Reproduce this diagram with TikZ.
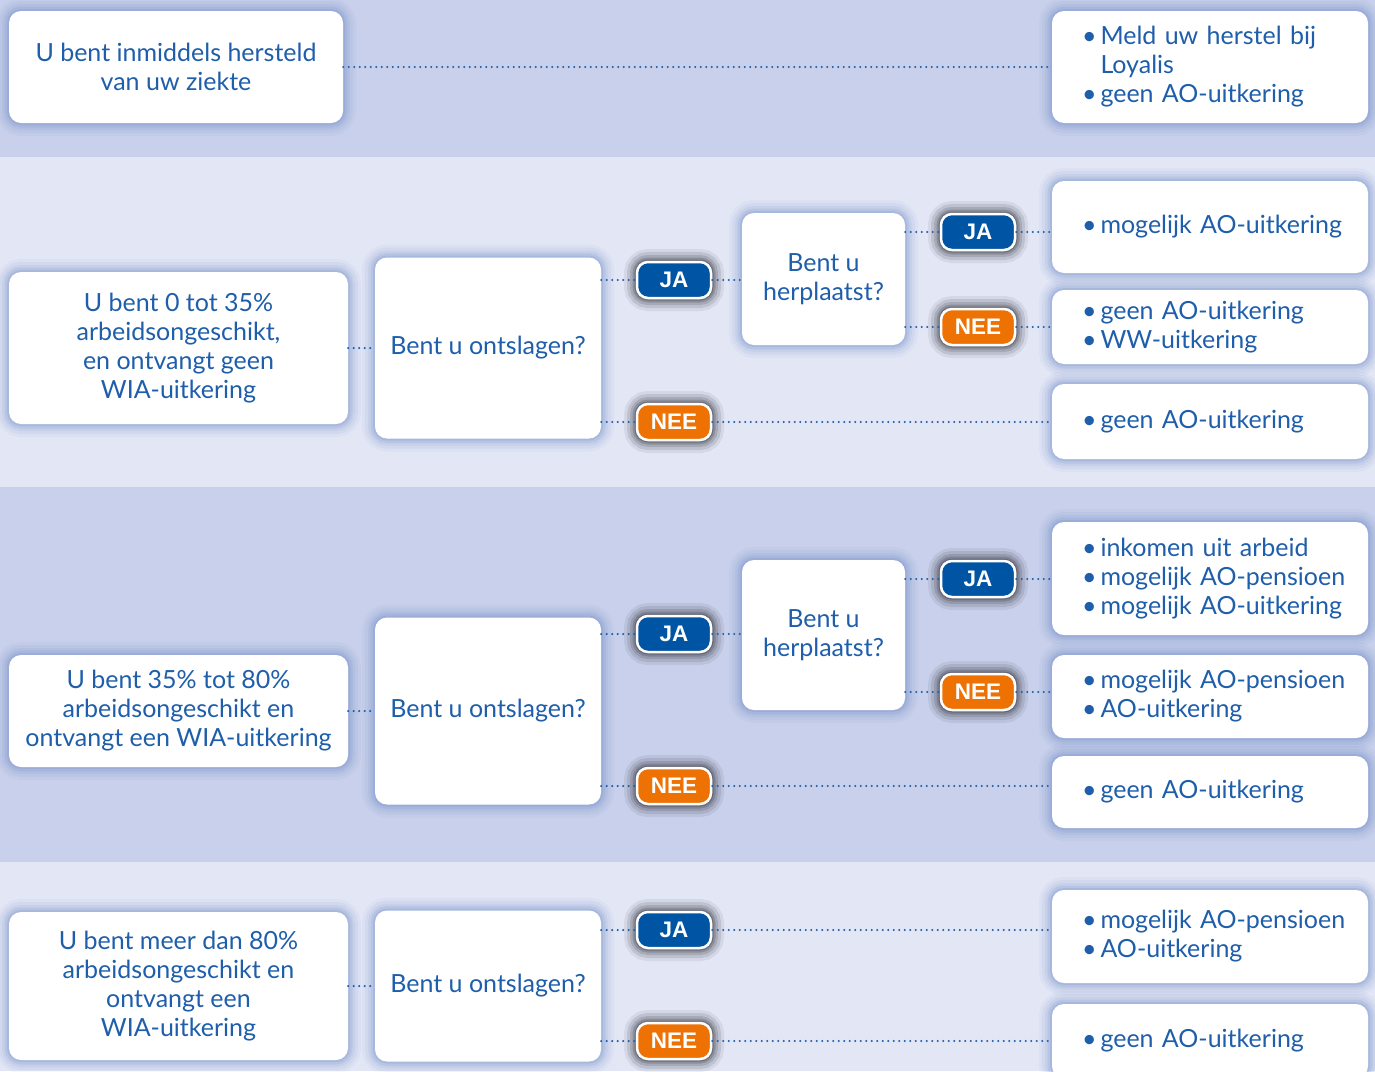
\documentclass[tikz,border=0pt]{standalone}
\usepackage{fontspec}
\setmainfont{Lato}
\newfontfamily\badgefont{Liberation Sans}
\usepackage{tikz}

\definecolor{textblue}{RGB}{30,94,170}
\definecolor{jablue}{RGB}{0,84,164}
\definecolor{neeorange}{RGB}{238,114,3}
\definecolor{banddark}{RGB}{200,208,235}
\definecolor{bandlight}{RGB}{226,230,245}
\definecolor{boxglow}{RGB}{100,130,195}
\definecolor{badgeglow}{RGB}{45,45,55}

\newcommand{\bul}[1]{\mbox{\textbullet\hspace{4pt}#1}}
\newcommand{\hang}[1]{\mbox{\phantom{\textbullet\hspace{4pt}}#1}}

\begin{document}
\begin{tikzpicture}[x=1pt, y=-1pt,
		glow_style/.style={preaction={draw=#1,draw opacity=.05,line width=26pt},
			preaction={draw=#1,draw opacity=.07,line width=20pt},
			preaction={draw=#1,draw opacity=.10,line width=14pt},
			preaction={draw=#1,draw opacity=.14,line width=9pt},
			preaction={draw=#1,draw opacity=.18,line width=4pt}},
		dark_glow_style/.style={preaction={draw=#1,draw opacity=.08,line width=26pt},
			preaction={draw=#1,draw opacity=.12,line width=20pt},
			preaction={draw=#1,draw opacity=.16,line width=14pt},
			preaction={draw=#1,draw opacity=.22,line width=9pt},
			preaction={draw=#1,draw opacity=.3,line width=5pt}},
		box_style/.style={rectangle,rounded corners=12pt,fill=white,text=textblue,
			align=center,inner sep=0pt,font=\fontsize{25}{29}\selectfont,glow_style=boxglow},
		result_style/.style={box_style,align=left,text width=256pt,inner xsep=30pt,minimum width=316pt},
		badge_style/.style={rectangle,rounded corners=11pt,draw=white,line width=2.5pt,
			text=white,inner sep=0pt,minimum width=74pt,minimum height=36pt,
			font=\badgefont\bfseries\fontsize{22.5}{24}\selectfont,dark_glow_style=badgeglow},
		ja_style/.style={badge_style,fill=jablue},
		nee_style/.style={badge_style,fill=neeorange},
		edge_style/.style={draw=textblue,line width=2.4pt,line cap=round,dash pattern=on 0pt off 5.5pt}]

		\useasboundingbox (0,0) rectangle (1375,1071);
		\clip (0,0) rectangle (1375,1071);

		% bands
		\fill[banddark]  (0,0)   rectangle (1375,157);
		\fill[bandlight] (0,157) rectangle (1375,487);
		\fill[banddark]  (0,487) rectangle (1375,862);
		\fill[bandlight] (0,862) rectangle (1375,1071);

		% hersteld
		\node[box_style,minimum width=334pt,minimum height=112pt] (a1) at (176,67) {U bent inmiddels hersteld\\van uw ziekte};
		\node[result_style,minimum height=112pt] (r1) at (1210,67) {\bul{Meld uw herstel bij}\\\hang{Loyalis}\\\bul{geen AO-uitkering}};

		% 0 tot 35%
		\node[box_style,minimum width=339pt,minimum height=152pt] (a2) at (178.5,348) {U bent 0 tot 35\%\\arbeidsongeschikt,\\en ontvangt geen\\WIA-uitkering};
		\node[box_style,minimum width=226pt,minimum height=181pt] (q2) at (488,348) {Bent u ontslagen?};
		\node[ja_style] (ja21) at (674,280) {JA};
		\node[nee_style] (nee21) at (674,422) {NEE};
		\node[box_style,minimum width=163pt,minimum height=132pt] (h2) at (823.5,279) {Bent u\\herplaatst?};
		\node[ja_style] (ja22) at (978,232) {JA};
		\node[nee_style] (nee22) at (978,327) {NEE};
		\node[result_style,minimum height=92pt] (r2a) at (1210,227) {\bul{mogelijk AO-uitkering}};
		\node[result_style,minimum height=74pt] (r2b) at (1210,327) {\bul{geen AO-uitkering}\\\bul{WW-uitkering}};
		\node[result_style,minimum height=75pt] (r2c) at (1210,421.5) {\bul{geen AO-uitkering}};

		% 35 tot 80%
		\node[box_style,minimum width=339pt,minimum height=112pt] (a3) at (178.5,711) {U bent 35\% tot 80\%\\arbeidsongeschikt en\\ontvangt een WIA-uitkering};
		\node[box_style,minimum width=226pt,minimum height=187pt] (q3) at (488,711) {Bent u ontslagen?};
		\node[ja_style] (ja31) at (674,634) {JA};
		\node[nee_style] (nee31) at (674,786) {NEE};
		\node[box_style,minimum width=163pt,minimum height=150pt] (h3) at (823.5,635) {Bent u\\herplaatst?};
		\node[ja_style] (ja32) at (978,579) {JA};
		\node[nee_style] (nee32) at (978,692) {NEE};
		\node[result_style,minimum height=113pt] (r3a) at (1210,578.5) {\bul{inkomen uit arbeid}\\\bul{mogelijk AO-pensioen}\\\bul{mogelijk AO-uitkering}};
		\node[result_style,minimum height=83pt] (r3b) at (1210,696.5) {\bul{mogelijk AO-pensioen}\\\bul{AO-uitkering}};
		\node[result_style,minimum height=72pt] (r3c) at (1210,792) {\bul{geen AO-uitkering}};

		% meer dan 80%
		\node[box_style,minimum width=339pt,minimum height=148pt] (a4) at (178.5,986) {U bent meer dan 80\%\\arbeidsongeschikt en\\ontvangt een\\WIA-uitkering};
		\node[box_style,minimum width=226pt,minimum height=151pt] (q4) at (488,986) {Bent u ontslagen?};
		\node[ja_style] (ja41) at (674,930) {JA};
		\node[nee_style] (nee41) at (674,1041) {NEE};
		\node[result_style,minimum height=93pt] (r4a) at (1210,936.5) {\bul{mogelijk AO-pensioen}\\\bul{AO-uitkering}};
		\node[result_style,minimum height=74pt] (r4b) at (1210,1041) {\bul{geen AO-uitkering}};

		\draw[edge_style] (a1) -- (r1);

		\draw[edge_style] (a2) -- (q2);
		\draw[edge_style] (ja21 -| q2.east) -- (ja21);
		\draw[edge_style] (ja21) -- (ja21 -| h2.west);
		\draw[edge_style] (nee21 -| q2.east) -- (nee21);
		\draw[edge_style] (nee21) -- (nee21 -| r2c.west);
		\draw[edge_style] (ja22 -| h2.east) -- (ja22);
		\draw[edge_style] (ja22) -- (ja22 -| r2a.west);
		\draw[edge_style] (nee22 -| h2.east) -- (nee22);
		\draw[edge_style] (nee22) -- (nee22 -| r2b.west);

		\draw[edge_style] (a3) -- (q3);
		\draw[edge_style] (ja31 -| q3.east) -- (ja31);
		\draw[edge_style] (ja31) -- (ja31 -| h3.west);
		\draw[edge_style] (nee31 -| q3.east) -- (nee31);
		\draw[edge_style] (nee31) -- (nee31 -| r3c.west);
		\draw[edge_style] (ja32 -| h3.east) -- (ja32);
		\draw[edge_style] (ja32) -- (ja32 -| r3a.west);
		\draw[edge_style] (nee32 -| h3.east) -- (nee32);
		\draw[edge_style] (nee32) -- (nee32 -| r3b.west);

		\draw[edge_style] (a4) -- (q4);
		\draw[edge_style] (ja41 -| q4.east) -- (ja41);
		\draw[edge_style] (ja41) -- (ja41 -| r4a.west);
		\draw[edge_style] (nee41 -| q4.east) -- (nee41);
		\draw[edge_style] (nee41) -- (nee41 -| r4b.west);
\end{tikzpicture}
\end{document}
